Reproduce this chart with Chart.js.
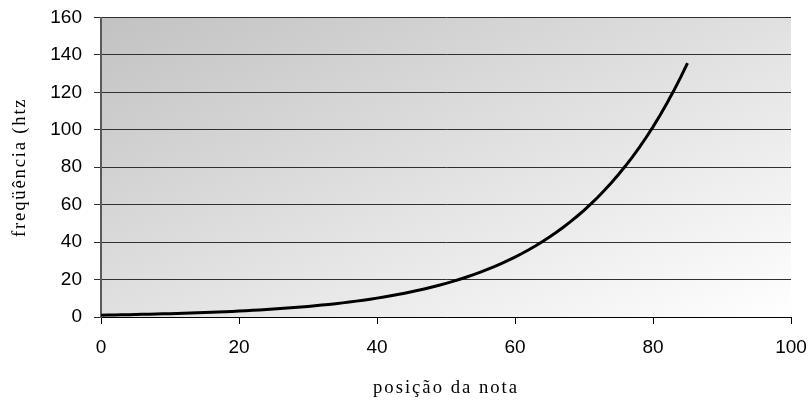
<!DOCTYPE html>
<html>
<head>
<meta charset="utf-8">
<script src="https://cdn.jsdelivr.net/npm/chart.js@4/dist/chart.umd.min.js"></script>
<style>
  html, body { margin: 0; padding: 0; background: #ffffff; }
  #wrap { width: 811px; height: 403px; }
</style>
</head>
<body>
<div id="wrap"><canvas id="c" width="811" height="403"></canvas></div>
<script>
// Piano key position (0 = first note) and its frequency
const notePositions = [
  0, 1, 2, 3, 4, 5, 6, 7, 8, 9, 10, 11, 12, 13, 14, 15, 16, 17, 18, 19,
  20, 21, 22, 23, 24, 25, 26, 27, 28, 29, 30, 31, 32, 33, 34, 35, 36, 37, 38, 39,
  40, 41, 42, 43, 44, 45, 46, 47, 48, 49, 50, 51, 52, 53, 54, 55, 56, 57, 58, 59,
  60, 61, 62, 63, 64, 65, 66, 67, 68, 69, 70, 71, 72, 73, 74, 75, 76, 77, 78, 79,
  80, 81, 82, 83, 84, 85
];
const frequencies = [
  1.00, 1.06, 1.12, 1.19, 1.26, 1.33, 1.41, 1.50, 1.59, 1.68,
  1.78, 1.89, 2.00, 2.12, 2.24, 2.38, 2.52, 2.67, 2.83, 3.00,
  3.17, 3.36, 3.56, 3.78, 4.00, 4.24, 4.49, 4.76, 5.04, 5.34,
  5.66, 5.99, 6.35, 6.73, 7.13, 7.55, 8.00, 8.48, 8.98, 9.51,
  10.08, 10.68, 11.31, 11.99, 12.70, 13.45, 14.25, 15.10, 16.00, 16.95,
  17.96, 19.03, 20.16, 21.36, 22.63, 23.97, 25.40, 26.91, 28.51, 30.20,
  32.00, 33.90, 35.92, 38.05, 40.32, 42.71, 45.25, 47.95, 50.80, 53.82,
  57.02, 60.41, 64.00, 67.81, 71.84, 76.11, 80.63, 85.43, 90.51, 95.89,
  101.59, 107.63, 114.04, 120.82, 128.00, 135.61
];
const xTickValues = [0, 20, 40, 60, 80, 100];
const yTickValues = [0, 20, 40, 60, 80, 100, 120, 140, 160];
const xTitle = 'posição da nota';
const yTitle = 'freqüência (htz';

// Linear scale whose title can be drawn with extra letter spacing
class SpacedTitleScale extends Chart.LinearScale {
  drawTitle() {
    const ctx = this.ctx;
    ctx.save();
    const ls = this.options.title.letterSpacing;
    if (ls && 'letterSpacing' in ctx) ctx.letterSpacing = ls;
    super.drawTitle();
    ctx.restore();
  }
}
SpacedTitleScale.id = 'spacedLinear';
SpacedTitleScale.defaults = Chart.LinearScale.defaults;
Chart.register(SpacedTitleScale);

// Grey-to-white diagonal fill behind the plot
const plotBackground = {
  id: 'plotBackground',
  beforeDraw(chart) {
    const { ctx, chartArea: a } = chart;
    ctx.save();
    ctx.fillStyle = '#ffffff';
    ctx.fillRect(0, 0, chart.width, chart.height);
    ctx.translate(a.left, a.top);
    ctx.scale(a.right - a.left, a.bottom - a.top);
    const g = ctx.createLinearGradient(0, 0, 1, 1);
    g.addColorStop(0, '#c2c2c2');
    g.addColorStop(1, '#ffffff');
    ctx.fillStyle = g;
    ctx.fillRect(0, 0, 1, 1);
    ctx.restore();
  }
};

const tickFont = { family: '"Liberation Sans", Arial, sans-serif', size: 19 };
const titleFont = { family: '"Liberation Serif", "Times New Roman", serif', size: 18.67 };

new Chart(document.getElementById('c'), {
  type: 'line',
  data: {
    datasets: [{
      data: notePositions.map((x, i) => ({ x, y: frequencies[i] })),
      borderColor: '#000000',
      borderWidth: 3,
      pointRadius: 0,
      fill: false,
      tension: 0
    }]
  },
  plugins: [plotBackground],
  options: {
    responsive: false,
    animation: false,
    layout: { padding: { top: 17.5, right: 20, left: 0, bottom: 0 } },
    plugins: { legend: { display: false }, tooltip: { enabled: false } },
    scales: {
      x: {
        type: 'spacedLinear',
        min: 0, max: 100,
        afterBuildTicks(s) { s.ticks = xTickValues.map(v => ({ value: v })); },
        afterFit(s) { s.height = 86; s.paddingLeft = 0; s.paddingRight = 0; },
        grid: { drawOnChartArea: false, drawTicks: true, tickLength: 7, color: '#000000' },
        border: { display: true, color: '#000000', width: 1 },
        ticks: { color: '#000000', font: tickFont, padding: 12, maxRotation: 0 },
        title: {
          display: true, text: xTitle, color: '#000000', font: titleFont,
          padding: { top: 0, bottom: 4 }, letterSpacing: '2px'
        }
      },
      y: {
        type: 'spacedLinear',
        min: 0, max: 160,
        afterBuildTicks(s) { s.ticks = yTickValues.map(v => ({ value: v })); },
        afterFit(s) { s.width = 101; s.paddingTop = 0; s.paddingBottom = 0; },
        grid: { drawOnChartArea: true, drawTicks: true, tickLength: 7, color: '#303030', lineWidth: 1 },
        border: { display: true, color: '#5a5a5a', width: 2 },
        ticks: { color: '#000000', font: tickFont, padding: 12 },
        title: {
          display: true, text: yTitle, color: '#000000', font: titleFont,
          padding: { top: 9, bottom: 0 }, letterSpacing: '1.8px'
        }
      }
    }
  }
});
</script>
</body>
</html>
